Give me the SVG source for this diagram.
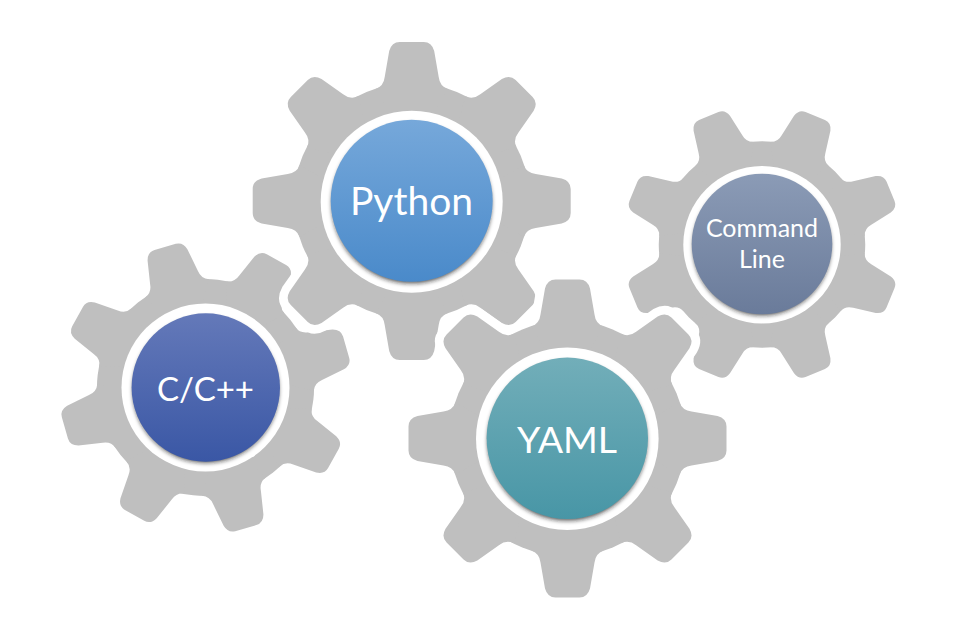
<svg xmlns="http://www.w3.org/2000/svg" xmlns:xlink="http://www.w3.org/1999/xlink" width="960" height="640" viewBox="0 0 960 640">
  <style>
    .gear { fill: #bfbfbf; }
    .halo { fill: #ffffff; stroke: #ffffff; stroke-width: 17; stroke-linejoin: round; }
    .ring { fill: #ffffff; }
    .shadow { fill: #1a1a1a; fill-opacity: 0.7; filter: url(#blur); }
    .label { fill: #ffffff; font-family: "Lato", "Carlito", "Liberation Sans", sans-serif; text-anchor: middle; }
  </style>
  <defs>
    <filter id="blur" x="-20%" y="-20%" width="140%" height="140%"><feGaussianBlur stdDeviation="2"/></filter>
    <linearGradient id="gPython" x1="0" y1="0" x2="0" y2="1"><stop offset="0" stop-color="#76a8da"/><stop offset="1" stop-color="#4a8aca"/></linearGradient>
    <linearGradient id="gYaml" x1="0" y1="0" x2="0" y2="1"><stop offset="0" stop-color="#72aeb9"/><stop offset="1" stop-color="#4896a6"/></linearGradient>
    <linearGradient id="gC" x1="0" y1="0" x2="0" y2="1"><stop offset="0" stop-color="#6479b9"/><stop offset="1" stop-color="#3a57a5"/></linearGradient>
    <linearGradient id="gCmd" x1="0" y1="0" x2="0" y2="1"><stop offset="0" stop-color="#8b9bb6"/><stop offset="1" stop-color="#6a7b9a"/></linearGradient>
    <path id="tooth" d="M-36,-112 Q-28,-115 -27,-124 L-22.5,-150 Q-20,-159 -12,-159 L12,-159 Q20,-159 22.5,-150 L27,-124 Q28,-115 36,-112 L0,-50 Z"/>
    <g id="gearShape">
      <circle r="118"/>
      <use xlink:href="#tooth" href="#tooth"/>
      <use xlink:href="#tooth" href="#tooth" transform="rotate(45)"/>
      <use xlink:href="#tooth" href="#tooth" transform="rotate(90)"/>
      <use xlink:href="#tooth" href="#tooth" transform="rotate(135)"/>
      <use xlink:href="#tooth" href="#tooth" transform="rotate(180)"/>
      <use xlink:href="#tooth" href="#tooth" transform="rotate(225)"/>
      <use xlink:href="#tooth" href="#tooth" transform="rotate(270)"/>
      <use xlink:href="#tooth" href="#tooth" transform="rotate(315)"/>
    </g>
  </defs>
  <rect width="960" height="640" fill="#ffffff"/>

  <g id="node-command-line">
    <use href="#gearShape" class="gear" transform="translate(762 244.5) rotate(22.5) scale(0.875)"/>
    <circle class="ring" cx="762" cy="244.7" r="78.7"/>
    <circle class="shadow" cx="762" cy="246.5" r="69"/>
    <circle cx="762" cy="244" r="70.3" fill="url(#gCmd)"/>
    <text class="label" x="762" y="237" font-size="25">Command</text>
    <text class="label" x="762" y="268" font-size="25">Line</text>
  </g>

  <g id="node-c">
    <use href="#gearShape" class="gear" transform="translate(205.5 387.5) rotate(-16) scale(0.92)"/>
    <circle class="ring" cx="205.5" cy="387.5" r="84"/>
    <circle class="shadow" cx="205.8" cy="390" r="73"/>
    <circle cx="205.8" cy="387.5" r="74.2" fill="url(#gC)"/>
    <text class="label" x="205.5" y="401" font-size="33">C/C++</text>
  </g>

  <g id="node-python">
    <use href="#gearShape" class="halo" transform="translate(411.7 201)"/>
    <use href="#gearShape" class="gear" transform="translate(411.7 201)"/>
    <circle class="ring" cx="411.7" cy="201.7" r="91"/>
    <circle class="shadow" cx="411.7" cy="203.5" r="80"/>
    <circle cx="411.7" cy="200.8" r="81" fill="url(#gPython)"/>
    <text class="label" x="411.5" y="215" font-size="39">Python</text>
  </g>

  <g id="node-yaml">
    <use href="#gearShape" class="halo" transform="translate(567.5 438.5)"/>
    <use href="#gearShape" class="gear" transform="translate(567.5 438.5)"/>
    <circle class="ring" cx="567.3" cy="438.7" r="91.3"/>
    <circle class="shadow" cx="567.3" cy="441" r="79.7"/>
    <circle cx="567.3" cy="438.3" r="80.7" fill="url(#gYaml)"/>
    <text class="label" x="567" y="453" font-size="37.5">YAML</text>
  </g>
</svg>
